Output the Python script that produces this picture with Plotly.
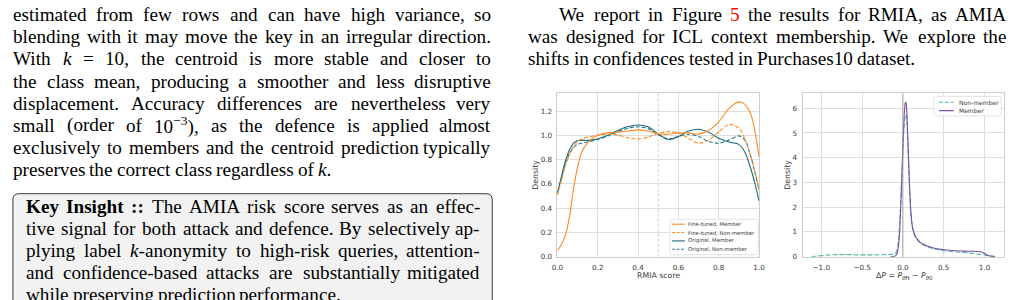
import re
import plotly.graph_objects as go

W, H = 1020, 300
def px(x): return x / W
def py(y): return 1 - y / H

# ---------------- data: left panel (RMIA score KDE) ----------------
rmia_x = [0, 0.02, 0.04, 0.06, 0.08, 0.10, 0.12, 0.15, 0.2, 0.25, 0.3, 0.35, 0.4, 0.45, 0.5,
          0.55, 0.6, 0.65, 0.7, 0.75, 0.8, 0.85, 0.9, 0.93, 0.96, 0.98, 1.0]
ft_member = [0.05, 0.10, 0.18, 0.33, 0.56, 0.74, 0.86, 0.94, 1.0, 1.02, 1.025, 1.035, 1.045, 1.035, 1.012,
             1.008, 1.02, 1.02, 1.01, 1.04, 1.11, 1.22, 1.275, 1.255, 1.17, 1.03, 0.82]
ft_nonmember = [0.50, 0.63, 0.75, 0.84, 0.91, 0.95, 0.97, 0.985, 1.0, 1.01, 1.0, 0.98, 0.97, 0.985, 1.015,
                1.03, 1.02, 0.975, 0.935, 0.96, 1.03, 1.09, 1.06, 0.97, 0.82, 0.70, 0.55]
orig_member = [0.52, 0.66, 0.79, 0.88, 0.935, 0.955, 0.958, 0.958, 0.97, 1.0, 1.04, 1.072, 1.085, 1.07, 1.01,
               0.965, 0.99, 1.035, 1.05, 1.025, 0.975, 0.945, 0.925, 0.86, 0.72, 0.60, 0.46]
orig_nonmember = [0.53, 0.65, 0.77, 0.85, 0.90, 0.925, 0.935, 0.945, 0.965, 0.995, 1.03, 1.058, 1.07, 1.055, 1.005,
                  0.97, 0.99, 1.01, 0.99, 0.95, 0.935, 0.96, 0.995, 0.96, 0.82, 0.69, 0.55]

# ---------------- data: right panel (Delta P KDE) ----------------
nm_x = [-1.12, -1.05, -1.0, -0.9, -0.8, -0.7, -0.6, -0.5, -0.4, -0.3, -0.2, -0.15, -0.1, -0.08, -0.06, -0.04,
        -0.02, 0.0, 0.01, 0.02, 0.03, 0.04, 0.05, 0.06, 0.08, 0.1, 0.12, 0.15, 0.2, 0.25, 0.3, 0.4, 0.5,
        0.6, 0.7, 0.8, 0.9, 0.95, 1.0, 1.05, 1.1, 1.13]
nm_y = [0.0, 0.02, 0.04, 0.07, 0.08, 0.085, 0.075, 0.07, 0.07, 0.075, 0.08, 0.09, 0.11, 0.2, 0.5, 1.3,
        2.8, 4.3, 5.0, 5.5, 5.72, 5.75, 5.4, 4.6, 2.8, 1.6, 1.1, 0.8, 0.58, 0.47, 0.4, 0.3, 0.24,
        0.2, 0.18, 0.15, 0.11, 0.09, 0.07, 0.03, 0.01, 0.0]
mem_x = [-0.15, -0.1, -0.08, -0.06, -0.04, -0.02, 0.0, 0.01, 0.02, 0.03, 0.04, 0.05, 0.06, 0.08, 0.1, 0.12,
         0.15, 0.2, 0.25, 0.3, 0.4, 0.5, 0.6, 0.7, 0.8, 0.9, 0.95, 1.0, 1.05, 1.1, 1.13]
mem_y = [0.0, 0.02, 0.08, 0.3, 1.0, 2.6, 4.4, 5.3, 5.95, 6.25, 6.2, 5.7, 4.8, 3.0, 1.7, 1.15,
         0.85, 0.62, 0.5, 0.43, 0.33, 0.28, 0.25, 0.23, 0.22, 0.21, 0.2, 0.13, 0.04, 0.01, 0.0]

# tick labels
rmia_ticks = [0.0, 0.2, 0.4, 0.6, 0.8, 1.0]
rmia_ytick = [0.0, 0.2, 0.4, 0.6, 0.8, 1.0, 1.2]
dp_ticks = [-1.0, -0.5, 0.0, 0.5, 1.0]
dp_ytick = [0, 1, 2, 3, 4, 5, 6]

legend_left = ["Fine-tuned, Member", "Fine-tuned, Non-member", "Original, Member", "Original, Non-member"]
legend_right = ["Non-member", "Member"]

# ---------------- page text ----------------
left_par = [
    ("estimated from few rows and can have high variance, so", True),
    ("blending with it may move the key in an irregular direction.", True),
    ("With <i>k</i> = 10, the centroid is more stable and closer to", True),
    ("the class mean, producing a smoother and less disruptive", True),
    ("displacement. Accuracy differences are nevertheless very", True),
    ("small (order of 10<sup>\u22123</sup>), as the defence is applied almost", True),
    ("exclusively to members and the centroid prediction typically", True),
    ("preserves the correct class regardless of <i>k</i>.", False),
]
box_par = [
    ("<b>Key</b> <b>Insight</b> <b>::</b> The AMIA risk score serves as an effec-", True),
    ("tive signal for both attack and defence. By selectively ap-", True),
    ("plying label <i>k</i>-anonymity to high-risk queries, attention-", True),
    ("and confidence-based attacks are substantially mitigated", True),
    ("while preserving prediction performance.", False),
]
right_par = [
    ("We report in Figure <r>5</r> the results for RMIA, as AMIA", True),
    ("was designed for ICL context membership. We explore the", True),
    ("shifts in confidences tested in Purchases10 dataset.", False),
]

# ---------------- colours ----------------
C_FT = "#ff8a22"
C_OR = "#176c7b"
C_OR2 = "#2a7d8c"
C_NM = "#4fb8a6"
C_MEM = "#7a4f9f"
GRID = "#dedede"
SPINE = "#cdcdcd"
TXT = "#3a3a3a"

fig = go.Figure()
def line_trace(x, y, color, dash, xa, ya, smooth):
    fig.add_trace(go.Scatter(x=x, y=y, mode="lines", xaxis=xa, yaxis=ya, hoverinfo="skip",
                             showlegend=False,
                             line=dict(color=color, width=1.1, dash=dash, shape="spline", smoothing=smooth)))

line_trace(rmia_x, orig_nonmember, C_OR2, "4px,2px", "x", "y", 0.8)
line_trace(rmia_x, orig_member, C_OR, "solid", "x", "y", 0.8)
line_trace(rmia_x, ft_nonmember, C_FT, "4px,2px", "x", "y", 0.8)
line_trace(rmia_x, ft_member, C_FT, "solid", "x", "y", 0.8)
line_trace(nm_x, nm_y, C_NM, "5px,2px", "x2", "y2", 0.5)
line_trace(mem_x, mem_y, C_MEM, "solid", "x2", "y2", 0.5)

tickfont = dict(family="DejaVu Sans", size=7.2, color=TXT)
ax_common = dict(showline=True, mirror=True, linecolor=SPINE, linewidth=0.8, showgrid=True,
                 gridcolor=GRID, gridwidth=0.8, zeroline=False, ticks="", tickfont=tickfont)

fig.update_layout(
    width=W, height=H, margin=dict(l=0, r=0, t=0, b=0),
    paper_bgcolor="white", plot_bgcolor="white", showlegend=False,
    xaxis=dict(domain=[px(558), px(762)], range=[0, 1], anchor="y", tickvals=rmia_ticks,
               ticktext=[f"{v:.1f}" for v in rmia_ticks], ticklabelstandoff=4, **ax_common),
    yaxis=dict(domain=[py(261), py(95)], range=[0, 1.345], anchor="x", tickvals=rmia_ytick,
               ticktext=[f"{v:.1f}" for v in rmia_ytick], ticklabelstandoff=3, **ax_common),
    xaxis2=dict(domain=[px(806), px(1010)], range=[-1.23, 1.24], anchor="y2", tickvals=dp_ticks,
                ticktext=[f"{v:.1f}".replace("-", "\u2212") for v in dp_ticks], ticklabelstandoff=4, **ax_common),
    yaxis2=dict(domain=[py(261), py(95)], range=[0, 6.6], anchor="x2", tickvals=dp_ytick,
                ticktext=[str(v) for v in dp_ytick], ticklabelstandoff=3, **ax_common),
)

shapes = []
anns = []
def label(text, x, y, font, xanchor="center", angle=0):
    anns.append(dict(text=text, x=px(x), y=py(y), xref="paper", yref="paper", xanchor=xanchor,
                     yanchor="middle", showarrow=False, font=font, textangle=angle, borderpad=0,
                     borderwidth=0))

# reference lines
shapes.append(dict(type="line", xref="x", yref="y domain", x0=0.5, x1=0.5, y0=0, y1=1,
                   line=dict(color="#c9c9c9", width=0.9, dash="3px,2px"), layer="below"))
shapes.append(dict(type="line", xref="x2", yref="y2 domain", x0=0, x1=0, y0=0, y1=1,
                   line=dict(color="#9a9a9a", width=0.8)))

# axis titles
tfont = dict(family="DejaVu Sans", size=7.8, color=TXT)
label("RMIA score", 660, 280.5, tfont)
label("Density", 535, 178, tfont, angle=-90)
label("Density", 790, 178, tfont, angle=-90)
label("\u0394<i>P</i> = <i>P</i><sub><i>\u03b8</i>ft</sub> \u2212 <i>P</i><sub><i>\u03b8</i>0</sub>", 909, 280.5, tfont)

# manual legends
def rounded_box(x0, y0, x1, y1, r, fill, edge, ew):
    X0, X1 = px(x0), px(x1)
    Y0, Y1 = py(y0), py(y1)
    rx, ry = r / W, r / H
    p = (f"M {X0+rx},{Y0} L {X1-rx},{Y0} Q {X1},{Y0} {X1},{Y0-ry} L {X1},{Y1+ry} Q {X1},{Y1} {X1-rx},{Y1} "
         f"L {X0+rx},{Y1} Q {X0},{Y1} {X0},{Y1+ry} L {X0},{Y0-ry} Q {X0},{Y0} {X0+rx},{Y0} Z")
    return dict(type="path", xref="paper", yref="paper", path=p, fillcolor=fill,
                line=dict(color=edge, width=ew))

shapes.append(rounded_box(672, 223, 761, 259, 2, "rgba(255,255,255,0.85)", "#d6d6d6", 0.7))
lstyles = [(C_FT, "solid"), (C_FT, "3px,1.5px"), (C_OR, "solid"), (C_OR2, "3px,1.5px")]
for i, (lab, (c, d)) in enumerate(zip(legend_left, lstyles)):
    yy = 228 + 8.5 * i
    shapes.append(dict(type="line", xref="paper", yref="paper", x0=px(674), x1=px(687), y0=py(yy), y1=py(yy),
                       line=dict(color=c, width=1.1, dash=d)))
    label(lab, 690, yy, dict(family="DejaVu Sans", size=5.3, color=TXT), xanchor="left")

shapes.append(rounded_box(939, 98, 1007, 118, 2, "rgba(255,255,255,0.85)", "#d6d6d6", 0.7))
rstyles = [(C_NM, "4px,2px"), (C_MEM, "solid")]
for i, (lab, (c, d)) in enumerate(zip(legend_right, rstyles)):
    yy = 104 + 8.5 * i
    shapes.append(dict(type="line", xref="paper", yref="paper", x0=px(944), x1=px(959), y0=py(yy), y1=py(yy),
                       line=dict(color=c, width=1.2, dash=d)))
    label(lab, 964, yy, dict(family="DejaVu Sans", size=6.0, color=TXT), xanchor="left")

# key insight box
shapes.append(rounded_box(7, 197, 492, 330, 6, "#f2f2f2", "#3a3a3a", 1.0))

# ---------------- justified text via Times metrics ----------------
REG = dict(zip("abcdefghijklmnopqrstuvwxyz",
               [444, 500, 444, 500, 444, 333, 500, 500, 278, 278, 500, 278, 778, 500, 500, 500, 500, 333, 389, 278, 500, 500, 722, 500, 500, 444]))
REG.update(dict(zip("ABCDEFGHIJKLMNOPQRSTUVWXYZ",
                    [722, 667, 667, 722, 611, 556, 722, 722, 333, 389, 722, 611, 889, 722, 722, 556, 722, 667, 556, 611, 722, 722, 944, 722, 722, 611])))
REG.update({d: 500 for d in "0123456789"})
REG.update({",": 250, ".": 250, "-": 333, "(": 333, ")": 333, ":": 278, "=": 564, "\u2212": 564, " ": 250})
BOLD = dict(REG)
BOLD.update({"K": 778, "I": 389, "n": 556, "h": 556, "t": 333, ":": 333, "e": 444, "y": 500, "s": 389, "i": 278, "g": 500})
ITAL = dict(REG)
ITAL.update({"k": 444})

FS = 19.2
FONT = "Liberation Serif"

def word_width(w):
    tot = 0.0
    bold = ital = sup = False
    for tok in re.split(r"(<[^>]+>)", w):
        if not tok:
            continue
        if tok.startswith("<"):
            tag = tok.strip("</>")
            on = not tok.startswith("</")
            if tag == "b": bold = on
            elif tag == "i": ital = on
            elif tag == "sup": sup = on
            continue
        table = BOLD if bold else (ITAL if ital else REG)
        s = 0.7 if sup else 1.0
        tot += sum(table.get(ch, 500) for ch in tok) * s
    return tot / 1000 * FS

def html(w):
    return w.replace("<r>", '<span style="color:#ff0000">').replace("</r>", "</span>")

def place_line(text, y, x0, x1, justify):
    words = text.split(" ")
    widths = [word_width(w) for w in words]
    if justify and len(words) > 1:
        gap = (x1 - x0 - sum(widths)) / (len(words) - 1)
    else:
        gap = REG[" "] / 1000 * FS
    x = x0
    for k, (w, wd) in enumerate(zip(words, widths)):
        last = justify and k == len(words) - 1
        label(html(w), x1 if last else x, y, dict(family=FONT, size=FS, color="black"),
              xanchor="right" if last else "left")
        x += wd + gap

for i, (t, j) in enumerate(left_par):
    place_line(t, 15 + 22.5 * i, 7, 491, j)
for i, (t, j) in enumerate(box_par):
    place_line(t, 210.5 + 22.3 * i, 20, 480, j)
for i, (t, j) in enumerate(right_par):
    place_line(t, 15 + 22.3 * i, 560 if i == 0 else 528, 1012, j)

fig.update_layout(shapes=shapes, annotations=anns)
fig.write_html("out.html")
